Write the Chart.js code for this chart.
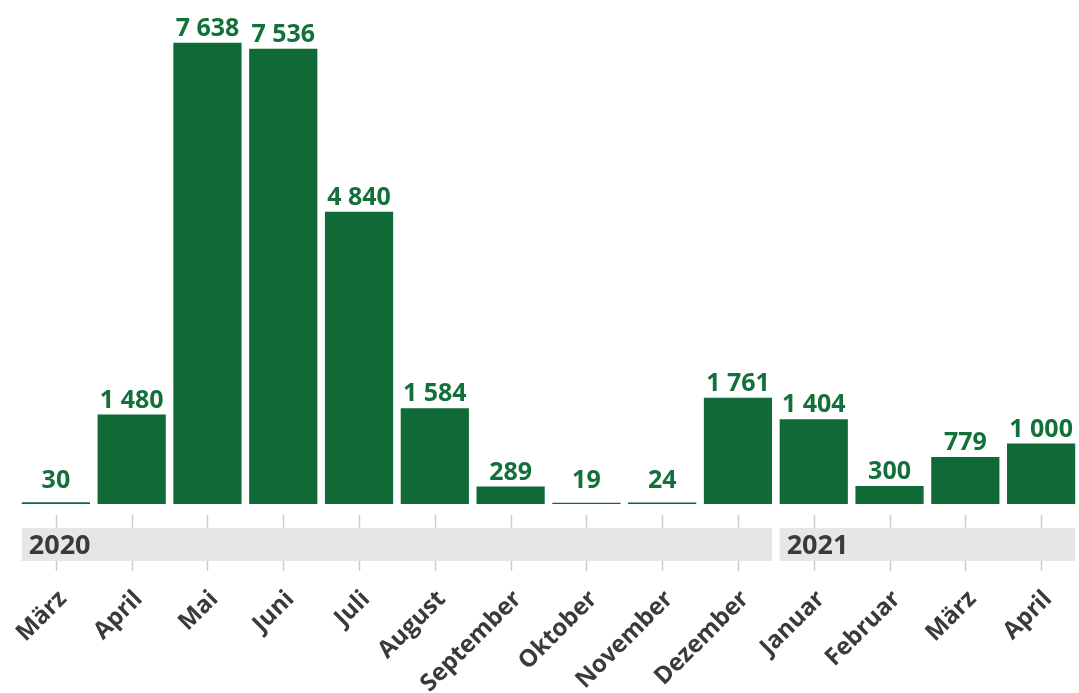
<!DOCTYPE html>
<html>
<head>
<meta charset="utf-8">
<script src="https://cdn.jsdelivr.net/npm/chart.js@4.4.1/dist/chart.umd.min.js"></script>
<style>
  html, body { margin: 0; padding: 0; background: #ffffff; }
  #wrap { width: 1079px; height: 693px; position: relative; }
</style>
</head>
<body>
<div id="wrap"><canvas id="c" width="1079" height="693"></canvas></div>
<script>
const months = ["März", "April", "Mai", "Juni", "Juli", "August", "September", "Oktober", "November", "Dezember", "Januar", "Februar", "März", "April"];
const values = [30, 1480, 7638, 7536, 4840, 1584, 289, 19, 24, 1761, 1404, 300, 779, 1000];
const years = ["2020", "2021"];
const yearStartIndex = [0, 10];
const yearEndIndex = [9, 13];

const GREEN = "#0f6a37";
const TEXT_GREEN = "#12703a";
const DARK = "#3a3a3a";
const FONT = "'Open Sans', 'Noto Sans', sans-serif";

function fmt(v) {
  return String(v).replace(/\B(?=(\d{3})+(?!\d))/g, " ");
}

const decorPlugin = {
  id: "decor",
  afterDatasetsDraw(chart) {
    const ctx = chart.ctx;
    const xs = chart.scales.x;
    const meta = chart.getDatasetMeta(0);
    const half = meta.data[0].width / 2;
    ctx.save();
    ctx.strokeStyle = "#cdcdcd";
    ctx.lineWidth = 1.5;
    for (let i = 0; i < months.length; i++) {
      const px = Math.round(xs.getPixelForValue(i)) + 0.5;
      ctx.beginPath();
      ctx.moveTo(px, 515);
      ctx.lineTo(px, 571);
      ctx.stroke();
    }
    for (let k = 0; k < years.length; k++) {
      const x0 = xs.getPixelForValue(yearStartIndex[k]) - half;
      const x1 = xs.getPixelForValue(yearEndIndex[k]) + half;
      ctx.fillStyle = "#e6e6e6";
      ctx.fillRect(x0, 528, x1 - x0, 33);
      ctx.fillStyle = DARK;
      ctx.font = "bold 27px " + FONT;
      ctx.textAlign = "left";
      ctx.textBaseline = "middle";
      ctx.fillText(years[k], x0 + 7, 546);
    }
    ctx.fillStyle = TEXT_GREEN;
    ctx.font = "bold 25px " + FONT;
    ctx.textAlign = "center";
    ctx.textBaseline = "alphabetic";
    meta.data.forEach((bar, i) => {
      const top = Math.min(bar.y, 495);
      ctx.fillText(fmt(values[i]), bar.x, top - 7);
    });
    ctx.restore();
  }
};

new Chart(document.getElementById("c"), {
  type: "bar",
  data: {
    labels: months,
    datasets: [{
      data: values,
      backgroundColor: GREEN,
      borderWidth: 0,
      barPercentage: 0.9,
      categoryPercentage: 1.0
    }]
  },
  options: {
    responsive: false,
    animation: false,
    layout: { padding: { left: 18, right: 0, top: 0, bottom: 0 } },
    plugins: { legend: { display: false }, tooltip: { enabled: false } },
    scales: {
      y: { display: false, min: 0, max: 8345 },
      x: {
        afterFit(scale) { scale.height = 189; scale.paddingLeft = 0; scale.paddingRight = 0; },
        border: { display: false },
        grid: { display: true, drawOnChartArea: false, drawTicks: true, tickLength: 0, color: "transparent" },
        ticks: {
          autoSkip: false,
          minRotation: 45,
          maxRotation: 45,
          padding: 81,
          labelOffset: 7,
          color: DARK,
          font: { family: FONT, size: 24, weight: "bold" }
        }
      }
    }
  },
  plugins: [decorPlugin]
});
</script>
</body>
</html>
